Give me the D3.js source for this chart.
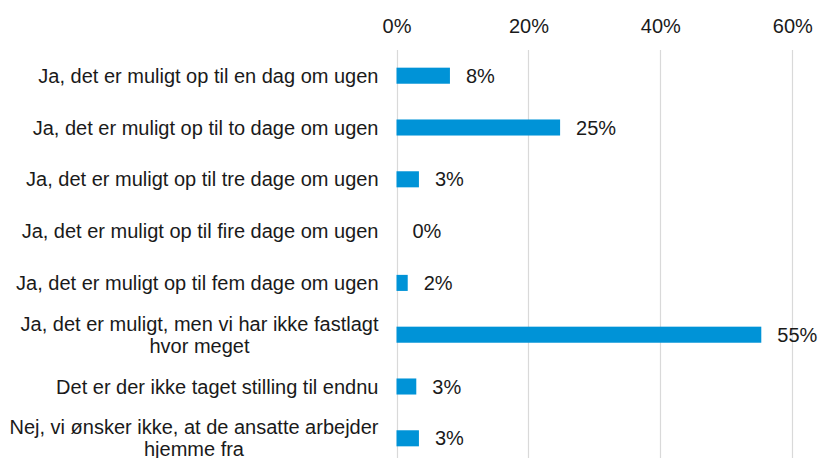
<!DOCTYPE html>
<html>
<head>
<meta charset="utf-8">
<script src="https://cdn.jsdelivr.net/npm/d3@7"></script>
<style>
  html, body { margin: 0; padding: 0; background: #fff; }
  svg { display: block; }
  text { font-family: "Liberation Sans", Arial, sans-serif; fill: #1a1a1a; }
</style>
</head>
<body>
<svg id="chart" width="839" height="458"></svg>
<script>
const categories = [
  "Ja, det er muligt op til en dag om ugen",
  "Ja, det er muligt op til to dage om ugen",
  "Ja, det er muligt op til tre dage om ugen",
  "Ja, det er muligt op til fire dage om ugen",
  "Ja, det er muligt op til fem dage om ugen",
  "Ja, det er muligt, men vi har ikke fastlagt\nhvor meget",
  "Det er der ikke taget stilling til endnu",
  "Nej, vi ønsker ikke, at de ansatte arbejder\nhjemme fra"
];
const values = [8.1, 24.8, 3.4, 0, 1.7, 55.3, 3.0, 3.4];
const valueLabels = ["8%", "25%", "3%", "0%", "2%", "55%", "3%", "3%"];
const tickValues = [0, 20, 40, 60];
const tickLabels = ["0%", "20%", "40%", "60%"];

const svg = d3.select("#chart");
const fontSize = 20;

const x = d3.scaleLinear().domain([0, 60]).range([396.5, 792.3]);
const y = d3.scaleBand().domain(categories)
  .range([49.8, 49.8 + 51.8 * categories.length])
  .paddingInner(0.69).paddingOuter(0.345);

// gridlines
svg.append("g").selectAll("line").data(tickValues).join("line")
  .attr("x1", d => Math.round(x(d)) + 0.5)
  .attr("x2", d => Math.round(x(d)) + 0.5)
  .attr("y1", 50).attr("y2", 458)
  .attr("stroke", "#d9d9d9").attr("stroke-width", 1.2);

// top axis labels
const axis = d3.axisTop(x).tickValues(tickValues)
  .tickFormat((d, i) => tickLabels[i]).tickSize(0).tickPadding(0);
const ax = svg.append("g").attr("transform", "translate(0,33)").call(axis);
ax.select(".domain").remove();
ax.selectAll("text").attr("font-size", fontSize)
  .attr("font-family", "Liberation Sans, Arial, sans-serif")
  .attr("fill", "#1a1a1a").attr("dy", 0);

// bars
svg.append("g").selectAll("rect").data(categories).join("rect")
  .attr("x", x(0))
  .attr("y", d => y(d))
  .attr("width", (d, i) => x(values[i]) - x(0))
  .attr("height", y.bandwidth())
  .attr("fill", "#0093D7");

// value labels
svg.append("g").selectAll("text").data(categories).join("text")
  .attr("x", (d, i) => x(values[i]) + 16)
  .attr("y", d => y(d) + y.bandwidth() / 2)
  .attr("dy", "0.35em")
  .attr("font-size", fontSize)
  .text((d, i) => valueLabels[i]);

// category labels
const right = 378.5;
const lineH = 22;
const cat = svg.append("g");
categories.forEach(c => {
  const lines = c.split("\n");
  const cy = y(c) + y.bandwidth() / 2;
  const g = cat.append("g");
  const texts = lines.map((ln, k) => g.append("text")
    .attr("font-size", fontSize)
    .attr("y", cy + (k - (lines.length - 1) / 2) * lineH)
    .attr("dy", "0.35em")
    .text(ln));
  if (lines.length === 1) {
    texts[0].attr("x", right).attr("text-anchor", "end");
  } else {
    const w = d3.max(texts, t => t.node().getComputedTextLength());
    texts.forEach(t => t.attr("x", right - w / 2).attr("text-anchor", "middle"));
  }
});
</script>
</body>
</html>
